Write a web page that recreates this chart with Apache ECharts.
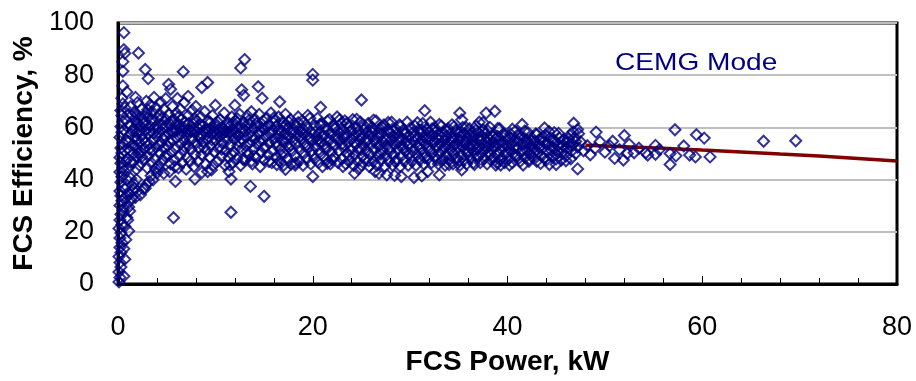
<!DOCTYPE html>
<html>
<head>
<meta charset="utf-8">
<script src="https://cdn.jsdelivr.net/npm/echarts@6/dist/echarts.min.js"></script>
<style>
html,body{margin:0;padding:0;background:#fff;}
#chart{width:916px;height:381px;}
</style>
</head>
<body>
<div id="chart"></div>
<script>
// Axis ticks
const xTicks = [0, 20, 40, 60, 80];
const yTicks = [0, 20, 40, 60, 80, 100];

// Scatter data [FCS Power kW, FCS Efficiency %]
const ptsNearZero = [
[0.1,0.8],[0.2,2.5],[0.1,4.6],[0.3,6.5],[0.2,8.2],[0.1,10.5],[0.3,12.1],[0.2,14.0],[0.4,15.8],[0.2,17.6],[0.3,19.5],[0.1,21.3],[0.4,22.8],[0.2,24.5],[0.3,26.7],[0.5,28.2],[0.2,30.1],[0.4,31.9],[0.3,33.8],[0.2,35.6],[0.5,37.2],[0.3,39.0],[0.4,41.1],[0.2,42.9],[0.5,44.6],[0.3,46.3],[0.2,48.5],[0.4,50.2],[0.3,52.1],[0.5,54.0],[0.2,56.2],[0.4,58.1],[0.3,60.3],[0.5,62.2],[0.4,64.6],[0.3,66.5],[0.5,69.0],[0.4,71.2],
[0.6,96.3],[0.6,89.8],[0.7,88.4],[0.5,85.2],[0.5,81.5],[0.5,75.9],[0.9,73.6],
[0.6,3.0],[0.7,9.5],[0.6,13.5],[0.8,17.0],[0.7,22.0],[0.9,25.5],[0.6,29.0],[0.8,33.0],[0.7,36.5],[0.9,40.0],[0.6,43.5],[0.8,47.0],[0.7,51.0],[0.9,55.0],[0.6,59.0],[0.8,63.0],[0.7,67.5]
];
const ptsRise = [
[1.1,20.3],[1.0,24.5],[1.2,28.0],[1.1,29.5],[1.3,32.0],[1.2,34.5],[1.4,33.0],[1.5,36.0],[1.7,36.7],[1.8,33.2],[2.0,35.5],[2.3,34.2],[1.6,38.5],[1.3,40.5],[1.9,40.0],
[1.1,44.5],[1.0,48.0],[1.2,51.0],[1.1,54.5],[1.3,57.5],[1.2,61.0],[1.4,64.5],[1.3,68.0],[1.5,46.5],[1.6,50.0],[1.5,53.5],[1.7,56.0],[1.6,59.5],[1.8,62.5],[1.7,66.0],[1.8,71.5],[1.9,44.0],[2.0,48.5],[1.9,52.0],[2.0,55.5],[1.9,58.0],[2.0,61.5],[1.9,65.0],[2.1,88.5],[2.0,69.5]
];
const pts2to5 = [
[2.6,36.4],[2.8,36.7],[3.2,39.3],[2.9,38.0],[3.6,39.9],[3.4,41.5],[4.0,42.5],[4.7,42.4],[4.2,44.0],
[2.2,45.5],[2.3,50.5],[2.2,54.0],[2.4,57.0],[2.3,60.5],[2.5,63.5],[2.4,67.0],[2.6,47.5],[2.7,52.0],[2.6,55.5],[2.8,59.0],[2.7,62.0],[2.9,65.5],[2.8,82.2],[3.1,78.7],[2.9,70.0],
[3.0,44.5],[3.1,49.0],[3.2,53.5],[3.0,57.5],[3.3,60.5],[3.1,64.0],[3.3,68.5],[3.4,46.5],[3.5,51.0],[3.6,55.0],[3.4,58.5],[3.6,62.5],[3.5,66.0],[3.7,71.5],
[3.8,48.0],[3.9,52.5],[4.0,56.5],[3.8,60.0],[4.1,63.5],[3.9,67.5],[4.2,45.5],[4.3,50.0],[4.4,54.0],[4.2,58.0],[4.5,61.0],[4.3,65.0],[4.4,69.5],[4.6,47.5],[4.7,52.0],[4.8,56.5],[4.6,59.5],[4.9,63.0],[4.7,67.0],[4.9,71.0],[5.0,49.5]
];
const pts5to10 = [
[5.2,76.5],[5.4,74.6],[6.1,71.1],[7.2,71.9],[8.6,75.3],[9.2,77.2],[6.7,81.3],[5.7,25.4],[5.9,39.3],[7.9,40.2],[8.6,42.7],[9.2,43.1],[9.6,43.7],[5.3,43.1],
[5.1,53.0],[5.2,57.5],[5.3,61.5],[5.2,65.0],[5.4,46.0],[5.5,50.5],[5.6,55.0],[5.5,59.0],[5.7,63.0],[5.6,68.0],[5.8,47.5],[5.9,52.0],[6.0,56.0],[5.9,58.5],[6.1,61.5],[6.0,65.5],[6.2,44.5],[6.3,49.0],[6.4,53.5],[6.3,59.5],[6.5,63.0],[6.4,67.0],[6.6,46.5],[6.7,51.0],[6.8,55.0],[6.7,58.8],[6.9,62.0],[6.8,69.5],[7.0,44.0],[7.1,48.5],[7.2,53.0],[7.1,57.0],[7.3,59.3],[7.2,64.5],[7.4,47.0],[7.5,51.5],[7.6,55.5],[7.5,58.5],[7.7,61.5],[7.6,66.5],[7.8,45.0],[7.9,49.5],[8.0,54.0],[7.9,59.0],[8.1,62.5],[8.0,68.0],[8.2,47.0],[8.3,52.0],[8.4,56.0],[8.3,59.5],[8.5,64.0],[8.6,49.5],[8.7,54.5],[8.8,58.5],[8.7,60.5],[8.9,66.0],[9.0,46.0],[9.1,51.0],[9.2,55.5],[9.1,59.0],[9.3,62.5],[9.4,48.5],[9.5,53.0],[9.6,57.5],[9.5,59.5],[9.7,64.5],[9.8,45.5],[9.9,50.5],[10.0,55.0],[9.9,58.5],[10.0,61.5],[10.0,68.5]
];
const pts10to15 = [
[11.6,27.5],[11.6,40.2],[11.4,43.1],[11.5,45.6],[12.6,82.8],[13.0,86.0],[12.7,74.4],[12.9,72.3],[14.4,75.6],[14.8,71.2],[13.6,37.4],[15.0,33.6],[13.7,47.1],
[10.2,47.0],[10.3,52.0],[10.4,56.5],[10.3,59.0],[10.5,63.0],[10.6,49.0],[10.7,54.0],[10.8,58.0],[10.7,60.0],[10.9,65.5],[11.0,45.5],[11.1,51.0],[11.2,55.0],[11.1,58.5],[11.3,62.0],[11.4,48.5],[11.5,53.0],[11.6,57.0],[11.5,60.5],[11.7,64.0],[11.8,46.5],[11.9,50.5],[12.0,55.5],[11.9,59.0],[12.1,62.5],[12.0,68.5],[12.2,48.0],[12.3,53.0],[12.4,57.0],[12.3,60.0],[12.5,65.0],[12.6,45.5],[12.7,51.5],[12.8,55.0],[12.7,58.5],[12.9,62.0],[13.0,47.5],[13.1,53.0],[13.2,56.5],[13.1,60.5],[13.3,64.5],[13.4,49.5],[13.5,54.0],[13.6,58.0],[13.5,61.5],[13.7,66.0],[13.8,46.0],[13.9,51.5],[14.0,55.5],[13.9,59.5],[14.1,63.0],[14.2,48.5],[14.3,53.5],[14.4,57.5],[14.3,60.5],[14.5,65.0],[14.6,45.0],[14.7,50.5],[14.8,55.0],[14.7,58.5],[14.9,62.5],[15.0,47.5]
];
const pts15to20 = [
[16.6,69.8],[16.3,45.8],[17.2,43.9],[18.2,45.6],[20.0,80.3],[20.0,78.1],[20.0,41.2],[20.8,67.7],
[15.1,52.5],[15.2,56.5],[15.1,59.5],[15.3,63.5],[15.4,49.5],[15.5,54.0],[15.6,57.5],[15.5,61.0],[15.7,65.5],[15.8,46.5],[15.9,51.0],[16.0,55.5],[15.9,59.0],[16.1,62.5],[16.2,48.5],[16.3,53.0],[16.4,57.0],[16.3,60.5],[16.5,64.0],[16.6,47.0],[16.7,51.5],[16.8,55.0],[16.7,58.5],[16.9,62.0],[17.0,45.5],[17.1,50.0],[17.2,54.5],[17.1,57.5],[17.3,61.0],[17.2,65.0],[17.4,48.0],[17.5,52.5],[17.6,56.5],[17.5,59.5],[17.7,63.0],[17.8,46.0],[17.9,51.0],[18.0,55.0],[17.9,58.0],[18.1,61.5],[18.2,49.0],[18.3,53.5],[18.4,57.0],[18.3,60.0],[18.5,64.0],[18.6,47.0],[18.7,51.5],[18.8,55.5],[18.7,58.5],[18.9,62.5],[19.0,45.5],[19.1,50.0],[19.2,54.0],[19.1,57.5],[19.3,61.0],[19.4,48.0],[19.5,52.5],[19.6,56.0],[19.5,59.5],[19.7,63.5],[19.8,46.0],[19.9,51.0],[20.0,55.0],[19.9,58.0]
];
const pts20to30 = [
[21.5,46.2],[23.1,45.0],[24.3,42.4],[24.7,44.1],[25.0,70.5],[26.4,43.1],[26.8,42.4],[27.6,41.8],[28.4,41.6],[29.1,41.2],
[20.2,48.0],[20.3,52.5],[20.4,56.5],[20.3,60.5],[20.5,63.5],[20.6,46.5],[20.7,50.5],[20.8,54.5],[20.7,58.0],[20.9,61.5],[21.0,45.0],[21.1,49.0],[21.2,53.5],[21.1,57.0],[21.3,60.0],[21.4,47.5],[21.5,52.0],[21.6,55.5],[21.5,59.0],[21.7,63.0],[21.8,46.0],[21.9,50.5],[22.0,54.0],[21.9,57.5],[22.1,61.0],[22.2,48.5],[22.3,53.0],[22.4,56.5],[22.3,59.5],[22.5,64.0],[22.6,46.5],[22.7,51.0],[22.8,55.0],[22.7,58.0],[22.9,61.5],[23.0,48.0],[23.1,52.5],[23.2,56.0],[23.1,59.0],[23.3,62.5],[23.4,46.0],[23.5,50.0],[23.6,54.0],[23.5,57.5],[23.7,60.5],[23.8,47.5],[23.9,51.5],[24.0,55.5],[23.9,58.5],[24.1,63.0],[24.2,45.5],[24.3,49.5],[24.4,53.5],[24.3,57.0],[24.5,60.0],[24.6,47.0],[24.7,51.5],[24.8,55.0],[24.7,58.5],[24.9,62.0],[25.0,45.5],[25.1,49.0],[25.2,53.0],[25.1,56.5],[25.3,59.5],[25.4,47.5],[25.5,51.0],[25.6,55.0],[25.5,58.0],[25.7,61.5],[25.8,45.0],[25.9,49.5],[26.0,53.5],[25.9,57.0],[26.1,60.0],[26.2,47.0],[26.3,51.5],[26.4,55.0],[26.3,58.5],[26.5,62.5],[26.6,45.5],[26.7,49.5],[26.8,53.0],[26.7,56.5],[26.9,59.5],[27.0,47.5],[27.1,51.0],[27.2,54.5],[27.1,57.5],[27.3,61.0],[27.4,45.0],[27.5,49.0],[27.6,53.0],[27.5,56.0],[27.7,59.0],[27.8,47.0],[27.9,51.0],[28.0,55.0],[27.9,58.0],[28.1,62.0],[28.2,45.5],[28.3,49.5],[28.4,53.5],[28.3,56.5],[28.5,59.5],[28.6,47.5],[28.7,51.5],[28.8,54.5],[28.7,57.5],[28.9,61.0],[29.0,45.0],[29.1,49.0],[29.2,53.0],[29.1,56.0],[29.3,59.0],[29.4,47.0],[29.5,51.0],[29.6,54.5],[29.5,57.5],[29.7,62.0],[29.8,45.5],[29.9,49.5],[30.0,53.5],[29.9,56.5]
];
const pts30to40 = [
[30.4,40.8],[31.2,41.4],[31.8,43.1],[33.0,41.8],[31.5,66.4],[35.1,65.5],[35.3,62.9],[37.8,65.5],[38.7,66.2],[37.1,62.0],[34.0,45.8],[35.3,43.7],[36.6,45.8],[38.8,45.6],[39.3,45.6],[40.2,45.6],
[30.2,47.0],[30.3,51.0],[30.4,54.5],[30.3,58.0],[30.5,60.5],[30.6,45.5],[30.7,49.5],[30.8,53.0],[30.7,56.0],[30.9,59.0],[31.0,47.5],[31.1,51.5],[31.2,55.0],[31.1,57.5],[31.3,61.5],[31.4,46.0],[31.5,50.0],[31.6,53.5],[31.5,56.5],[31.7,59.5],[31.8,48.0],[31.9,52.0],[32.0,55.5],[31.9,58.0],[32.1,62.0],[32.2,46.5],[32.3,50.5],[32.4,54.0],[32.3,57.0],[32.5,60.0],[32.6,48.5],[32.7,52.5],[32.8,55.5],[32.7,58.5],[32.9,46.0],[33.0,50.0],[33.1,53.5],[33.0,57.0],[33.2,60.5],[33.3,47.5],[33.4,51.5],[33.5,55.0],[33.4,58.0],[33.6,45.5],[33.7,49.5],[33.8,53.0],[33.7,56.5],[33.9,59.5],[34.0,47.5],[34.1,51.5],[34.2,54.5],[34.1,57.5],[34.3,61.0],[34.4,46.0],[34.5,50.0],[34.6,53.5],[34.5,56.0],[34.7,59.0],[34.8,48.0],[34.9,52.0],[35.0,55.0],[34.9,58.0],[35.1,45.5],[35.2,49.5],[35.3,53.0],[35.2,56.5],[35.4,60.0],[35.5,47.5],[35.6,51.5],[35.7,54.5],[35.6,57.5],[35.8,46.0],[35.9,50.0],[36.0,53.0],[35.9,56.0],[36.1,59.5],[36.2,48.0],[36.3,52.0],[36.4,55.0],[36.3,58.0],[36.5,46.5],[36.6,50.5],[36.7,53.5],[36.6,56.5],[36.8,60.5],[36.9,48.5],[37.0,52.0],[37.1,55.0],[37.0,58.0],[37.2,46.5],[37.3,50.0],[37.4,53.5],[37.3,56.5],[37.5,59.0],[37.6,48.0],[37.7,51.5],[37.8,54.5],[37.7,57.5],[37.9,46.0],[38.0,50.0],[38.1,53.0],[38.0,56.0],[38.2,60.0],[38.3,47.5],[38.4,51.5],[38.5,54.5],[38.4,57.0],[38.6,48.5],[38.7,52.5],[38.8,55.5],[38.9,46.5],[39.0,50.0],[39.1,53.5],[39.0,56.5],[39.2,59.5],[39.3,48.0],[39.4,51.5],[39.5,54.5],[39.6,57.5],[39.7,46.5],[39.8,50.0],[39.9,53.0],[40.0,55.5]
];
const pts40to47 = [
[41.5,61.1],[43.8,59.8],[41.6,45.6],[43.4,46.2],[44.3,45.8],[45.0,45.8],[47.2,44.1],[46.8,61.6],
[40.1,48.0],[40.2,51.5],[40.3,57.5],[40.4,53.5],[40.5,46.5],[40.6,50.0],[40.7,55.0],[40.8,58.5],[40.9,48.5],[41.0,52.0],[41.1,54.5],[41.2,57.0],[41.3,47.0],[41.4,50.5],[41.6,53.5],[41.7,56.0],[41.8,48.5],[41.9,51.5],[42.0,55.0],[42.1,58.0],[42.2,47.0],[42.3,50.0],[42.4,53.0],[42.5,56.0],[42.6,48.5],[42.7,52.0],[42.8,54.5],[42.9,57.5],[43.0,47.0],[43.1,50.5],[43.2,53.5],[43.3,55.5],[43.5,49.0],[43.6,52.0],[43.7,54.5],[43.9,57.0],[44.0,47.5],[44.1,51.0],[44.2,53.5],[44.4,56.0],[44.5,49.0],[44.6,52.5],[44.7,55.0],[44.8,58.0],[45.0,48.0],[45.1,51.0],[45.2,53.5],[45.3,56.0],[45.5,47.5],[45.6,50.5],[45.7,53.0],[45.8,55.5],[46.0,49.0],[46.1,52.0],[46.2,54.5],[46.4,57.0],[46.5,48.0],[46.6,51.0],[46.7,53.5],[46.9,56.0],[47.0,50.0],[47.2,52.5],[47.3,57.6],[47.2,59.2]
];
const ptsBandExtra = [
[1.25,46.8],[1.45,58.7],[1.65,52.8],[1.85,63.9],[2.05,50.2],[2.25,58.9],[2.45,48.8],[2.65,61.2],[2.85,54.1],[3.05,66.8],[3.25,51.7],[3.45,62.9],[3.65,57.8],[3.85,44.2],[4.05,59.6],[4.25,53.4],[4.45,63.3],[4.65,55.7],[4.85,48.9],[5.05,60.4],[5.25,54.8],[5.45,62.3],[5.65,58.2],[5.85,44.9],[6.05,59.1],[6.25,64.1],[6.45,57.3],[6.65,60.1],[6.85,52.6],[7.05,58.6],[7.25,61.4],[7.45,55.3],[7.65,59.6],[7.85,63.4],[8.05,58.2],[8.25,56.7],[8.45,60.9],[8.65,57.1],[8.85,52.3],[9.05,59.8],[9.25,58.3],[9.45,61.9],[9.65,55.2],[9.85,59.9],[10.05,57.4],[10.25,62.1],[10.45,58.1],[10.65,51.6],[10.85,59.4],[11.05,56.3],[11.25,60.8],[11.45,58.4],[11.65,49.8],[11.85,61.7],[12.05,57.8],[12.25,63.3],[12.45,54.6],[12.65,59.7],[12.85,47.8],
[13.05,58.8],[13.25,50.9],[13.5,62.8],[13.75,56.6],[14.0,49.0],[14.25,61.6],[14.5,54.7],[14.75,59.9],[15.0,52.1],[15.25,60.2],[15.5,46.9],[15.75,57.9],[16.0,63.6],[16.25,54.2],[16.5,58.9],[16.75,49.6],[17.0,60.3],[17.25,55.8],[17.5,62.2],[17.75,53.1],[18.0,58.7],[18.25,46.4],[18.5,61.8],[18.75,56.8],[19.0,59.3],[19.25,52.7],[19.5,64.6],[19.75,55.4],[20.0,49.5],[20.25,58.3],[20.5,54.9],[20.75,61.1],[21.0,56.2],[21.25,51.8],[21.5,62.4],[21.75,57.9],[22.0,47.7],[22.25,59.8],[22.5,55.3],[22.75,62.9],[23.0,53.7],[23.25,57.4],[23.5,61.6],[23.75,49.4],[24.0,58.9],[24.25,54.2],[24.5,63.1],[24.75,56.9],[25.0,51.6],[25.25,60.7],[25.5,54.8],[25.75,47.3],[26.0,58.4],[26.25,62.8],[26.5,53.9],[26.75,57.8],[27.0,49.8],[27.25,59.9],[27.5,55.2],[27.75,61.9],[28.0,52.3],[28.25,58.6],[28.5,46.8],[28.75,55.7],[29.0,60.4],[29.25,51.9],[29.5,57.9],[29.75,53.3],[30.0,59.7],[30.25,49.2],[30.5,56.7],[30.75,61.8],[31.0,53.6],[31.25,58.9],[31.5,48.4],[31.75,55.9],[32.0,51.3],[32.25,59.4],[32.5,54.8],[32.75,47.6],[33.0,61.1],[33.25,56.2],[33.5,52.4],[33.75,58.7],[34.0,49.9],[34.25,55.6],[34.5,60.2],[34.75,53.8],[35.0,47.2],[35.25,58.3],[35.5,54.4],[35.75,59.9],[36.0,50.8],[36.25,56.9],[36.5,52.7],[36.75,58.9],[37.0,48.9],[37.25,55.3],[37.5,61.9],[37.75,52.8],[38.0,58.6],[38.25,49.8],[38.5,56.4],[38.75,53.2],[39.0,59.6],[39.25,47.4],[39.5,52.9],[39.75,56.7],[40.0,50.4],[40.25,55.9],[40.5,59.3],[40.75,52.6],[41.0,49.2],[41.25,55.7],[41.5,51.1],[41.75,58.6],[42.0,53.9],[42.25,47.9],[42.5,54.7],[42.75,50.6],[43.0,57.3],[43.25,52.3],[43.5,55.9],[43.75,48.2],[44.0,53.8],[44.25,58.4],[44.5,51.2],[44.75,54.3],[45.0,49.6],[45.25,57.7],[45.5,52.2],[45.75,54.9],[46.0,47.2],[46.25,55.6],[46.5,52.9],[46.75,58.3],[47.0,54.6]
];
const ptsTail = [
[47.5,54.5],[47.8,51.0],[48.2,53.0],[48.5,49.5],[49.1,58.2],[49.0,52.0],[49.5,54.5],[50.0,50.5],[50.5,53.0],[50.8,54.7],[51.0,48.1],[51.5,51.5],[51.9,47.5],[52.0,56.9],[52.3,50.0],[52.5,53.5],[53.0,50.3],[53.5,52.0],[54.2,50.3],[54.4,49.4],[55.2,53.1],[55.2,49.7],[55.6,51.5],[56.7,50.0],[56.7,45.8],[57.2,59.1],[57.3,49.1],[58.1,52.9],[58.7,49.4],[59.3,48.7],[59.4,57.2],[60.2,55.9],[60.8,48.7],[66.3,54.7],[69.6,54.9]
];

// Trend curve (dark red), visible part
const trendX = [48, 52, 56, 60, 64, 68, 72, 76, 80];
const trendY = [53.2, 52.6, 52.0, 51.3, 50.6, 49.8, 49.0, 48.1, 47.1];

const scatterData = [].concat(ptsNearZero, ptsRise, pts2to5, pts5to10, pts10to15, pts15to20, pts20to30, pts30to40, pts40to47, ptsBandExtra, ptsTail);
const trendData = trendX.map((x, i) => [x, trendY[i]]);

const chart = echarts.init(document.getElementById('chart'), null, {renderer: 'canvas'});
const FONT = 'Arial, "Liberation Sans", sans-serif';
chart.setOption({
  animation: false,
  backgroundColor: '#fff',
  grid: {left: 118, right: 19, top: 23, bottom: 94, show: true, borderColor: '#000', borderWidth: 3, backgroundColor: 'rgba(0,0,0,0)'},
  xAxis: {
    type: 'value', min: xTicks[0], max: xTicks[xTicks.length - 1], interval: 20,
    axisLine: {show: true, onZero: false, lineStyle: {color: '#000', width: 3}},
    axisTick: {show: true, inside: true, length: 8, lineStyle: {color: '#000', width: 1}},
    minorTick: {show: true, splitNumber: 5, length: 6, lineStyle: {color: '#000', width: 1}},
    splitLine: {show: false},
    axisLabel: {fontSize: 27, color: '#000', fontFamily: FONT, margin: 30},
    name: 'FCS Power, kW', nameLocation: 'middle', nameGap: 64,
    nameTextStyle: {fontSize: 28, fontWeight: 'bold', color: '#000', fontFamily: FONT}
  },
  yAxis: {
    type: 'value', min: yTicks[0], max: yTicks[yTicks.length - 1], interval: 20,
    axisLine: {show: true, onZero: false, lineStyle: {color: '#000', width: 3}},
    axisTick: {show: false},
    splitLine: {show: true, lineStyle: {color: '#c0c0c0', width: 2}},
    axisLabel: {fontSize: 27, color: '#000', fontFamily: FONT, margin: 24},
    name: 'FCS Efficiency, %', nameLocation: 'middle', nameGap: 73, nameRotate: 90,
    nameTextStyle: {fontSize: 28, fontWeight: 'bold', color: '#000', fontFamily: FONT}
  },
  graphic: [{
    type: 'text', left: 615, top: 51, scaleX: 1.17,
    style: {text: 'CEMG Mode', fill: '#000080', font: '24px Arial, "Liberation Sans", sans-serif'}
  }],
  series: [
    {type: 'line', data: trendData, smooth: true, showSymbol: false, z: 1,
     lineStyle: {color: '#800000', width: 3.5}},
    {type: 'scatter', data: scatterData, symbol: 'diamond', symbolSize: 11, z: 2,
     itemStyle: {color: 'rgba(0,0,0,0)', borderColor: '#000080', borderWidth: 2}}
  ]
});
</script>
</body>
</html>
